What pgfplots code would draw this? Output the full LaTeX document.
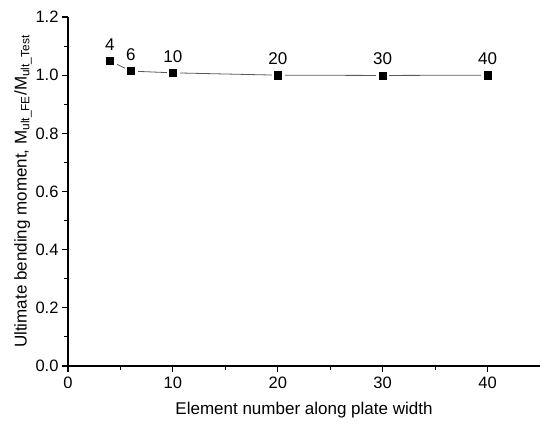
\documentclass[border=0pt]{standalone}
\usepackage{fontspec}
\setmainfont{Liberation Sans}
\usepackage{pgfplots}
\pgfplotsset{compat=1.18}

\pgfplotstableread{
n   r
4   1.049
6   1.014
10  1.008
20  1.000
30  0.999
40  1.000
}\convdata

\begin{document}
\begin{tikzpicture}
\begin{axis}[
  scale only axis,
  width=472pt, height=349pt,
  xmin=0, xmax=45, ymin=0, ymax=1.2,
  axis lines=left,
  axis line style={-, line width=1.1pt},
  xtick={0,10,20,30,40},
  ytick={0,0.2,0.4,0.6,0.8,1.0,1.2},
  minor x tick num=1,
  minor y tick num=1,
  tick align=outside,
  major tick length=6pt,
  minor tick length=4pt,
  tick style={line width=1.1pt, black},
  /pgf/number format/assume math mode=true,
  yticklabel style={/pgf/number format/fixed, /pgf/number format/fixed zerofill, /pgf/number format/precision=1},
  ticklabel style={font=\fontsize{16.5}{18}\selectfont},
  xticklabel style={yshift=-1pt},
  xlabel={Element number along plate width},
  ylabel={Ultimate bending moment, M\textsubscript{ult\_FE}/M\textsubscript{ult\_Test}},
  label style={font=\fontsize{17}{19}\selectfont},
  xlabel style={yshift=-7pt},
  ylabel style={yshift=-3pt},
]
\addplot[color=black!65, line width=0.8pt] table[x=n, y=r] {\convdata};
\addplot[only marks, mark=square*, mark size=6pt, mark options={draw=white, fill=white}] table[x=n, y=r] {\convdata};
\addplot[only marks, mark=square*, mark size=3.6pt, mark options={fill=black, draw=black},
  point meta=explicit symbolic,
  nodes near coords,
  nodes near coords style={font=\fontsize{17}{19}\selectfont, anchor=south, yshift=7pt}]
  table[x=n, y=r, meta=n] {\convdata};
\end{axis}
\pgfresetboundingbox
\path (-68pt,-62pt) rectangle (482pt,366pt);
\end{tikzpicture}
\end{document}
